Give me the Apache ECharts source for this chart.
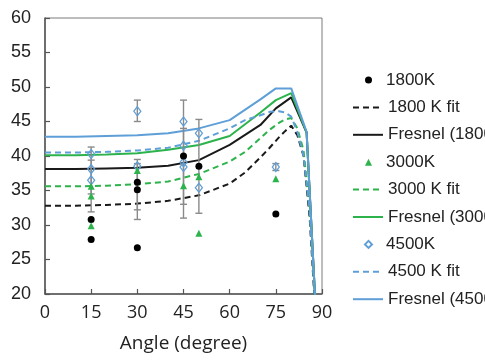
<!DOCTYPE html>
<html><head><meta charset="utf-8">
<script src="https://cdn.jsdelivr.net/npm/echarts@6/dist/echarts.min.js"></script>
<style>html,body{margin:0;padding:0;background:#fff}#c{width:485px;height:360px}</style>
</head><body><div id="c"></div>
<script>
// ---- data ----
const xTicks = [0, 15, 30, 45, 60, 75, 90];
const yTicks = [20, 25, 30, 35, 40, 45, 50, 55, 60];

// measured points [angle, value]
const pts1800 = [[15,30.8],[15,27.9],[30,36.2],[30,35.1],[30,26.7],[45,40.0],[50,38.5],[75,31.6]];
const pts3000 = [[15,35.6],[15,34.2],[15,29.9],[30,37.9],[45,35.7],[50,37.0],[50,28.8],[75,36.7]];
const pts4500 = [[15,40.3],[15,38.1],[15,36.5],[30,46.5],[30,38.5],[45,45.0],[45,41.5],[45,39.1],[45,38.4],[50,43.3],[50,35.4],[75,38.4]];

// error bars [angle, low, high]
const errBars = [[15,31.9,41.3],[15,34.5,39.4],[30,45.0,48.1],[30,30.8,39.5],[30,32.2,38.9],[45,31.0,48.1],[45,33.0,44.0],[50,31.7,45.3],[75,37.9,38.9]];

// fit curves
const fitAngles = [0,10,20,30,40,50,60,65,70,73,76,78,80,82,84,86,88,90];
const fit1800 = [32.8,32.8,32.9,33.1,33.5,34.3,36.0,37.6,39.8,41.2,42.7,43.6,44.4,43.0,40.0,31.0,16.0,0];
const fit3000 = [35.6,35.6,35.7,35.9,36.3,37.4,39.2,40.6,42.6,43.8,44.8,45.3,45.5,44.0,40.8,32.0,17.0,0];
const fit4500 = [40.5,40.5,40.6,40.8,41.2,42.2,44.0,45.2,45.9,46.4,46.5,46.3,45.7,43.5,40.0,32.0,17.0,0];

// Fresnel curves
const fresAngles = [0,10,20,30,40,50,60,70,75,80,85,90];
const fres1800 = [38.1,38.1,38.2,38.3,38.6,39.4,41.6,44.5,46.9,48.5,43.4,0];
const fres3000 = [40.1,40.1,40.2,40.4,40.9,41.6,42.9,46.3,48.1,49.1,43.4,0];
const fres4500 = [42.8,42.8,42.9,43.0,43.3,44.0,45.2,48.2,49.8,49.8,43.5,0];

const names = ['1800K','1800 K fit','Fresnel (1800 K)','3000K','3000 K fit','Fresnel (3000 K)','4500K','4500 K fit','Fresnel (4500 K)'];

// ---- styles ----
const cBlack = '#1a1a1a', cGreen = '#2cb34c', cBlue = '#5f9fd8';
const pair = (xs, ys) => xs.map((x, i) => [x, ys[i]]);
const lineS = (name, xs, ys, color, dashed) => ({
  name, type: 'line', data: pair(xs, ys), symbol: 'none', smooth: false, clip: true, z: 2,
  lineStyle: { color, width: 2, type: dashed ? [6, 4] : 'solid' }, itemStyle: { color }
});

const rowH = 27.4, firstRow = 75;
const legText = { color: '#222', fontSize: 17, fontFamily: 'Liberation Sans', lineHeight: 17 };
const markerLegend = {
  orient: 'vertical', left: 359, top: firstRow - 8.5, itemWidth: 7, itemHeight: 7,
  itemGap: 3 * rowH - 17, textStyle: Object.assign({ padding: [0, 0, 0, 9] }, legText),
  data: [names[0], names[3], names[6]]
};
const lineLegend = (i) => ({
  orient: 'vertical', left: 347, top: firstRow + (3 * i + 1) * rowH - 8.5, itemWidth: 30, itemHeight: 8,
  itemGap: rowH - 17, textStyle: legText,
  data: [{ name: names[3 * i + 1], itemStyle: { opacity: 0 } }, { name: names[3 * i + 2], itemStyle: { opacity: 0 } }]
});

const chart = echarts.init(document.getElementById('c'), null, { renderer: 'canvas' });
chart.setOption({
  animation: false,
  backgroundColor: '#fff',
  grid: { left: 45, right: 163, top: 18, bottom: 66, show: true, borderColor: '#7a7a7a', borderWidth: 1 },
  xAxis: {
    type: 'value', min: 0, max: 90, interval: 15,
    axisLine: { show: true, lineStyle: { color: '#555', width: 1.5 } },
    axisTick: { show: true, inside: true, length: 5, lineStyle: { color: '#555', width: 1.2 } },
    splitLine: { show: false },
    axisLabel: { color: '#222', fontSize: 18, fontFamily: 'Open Sans', margin: 10,
      formatter: v => xTicks.includes(v) ? String(v) : '' },
    name: 'Angle (degree)', nameLocation: 'middle', nameGap: 40,
    nameTextStyle: { color: '#222', fontSize: 19, fontFamily: 'Open Sans' }
  },
  yAxis: {
    type: 'value', min: 20, max: 60, interval: 5,
    axisLine: { show: true, lineStyle: { color: '#555', width: 1.5 } },
    axisTick: { show: true, inside: true, length: 5, lineStyle: { color: '#555', width: 1.2 } },
    splitLine: { show: false },
    axisLabel: { color: '#222', fontSize: 18, fontFamily: 'Liberation Sans', margin: 14,
      formatter: v => yTicks.includes(v) ? String(v) : '' }
  },
  legend: [markerLegend, lineLegend(0), lineLegend(1), lineLegend(2)],
  series: [
    { name: 'errors', type: 'custom', z: 3, data: errBars, silent: true,
      renderItem: (params, api) => {
        const x = api.value(0), lo = api.value(1), hi = api.value(2);
        const pLo = api.coord([x, lo]), pHi = api.coord([x, hi]);
        const w = 3.5, st = { stroke: '#8a8a8a', lineWidth: 1.4 };
        return { type: 'group', children: [
          { type: 'line', shape: { x1: pLo[0], y1: pLo[1], x2: pHi[0], y2: pHi[1] }, style: st },
          { type: 'line', shape: { x1: pLo[0]-w, y1: pLo[1], x2: pLo[0]+w, y2: pLo[1] }, style: st },
          { type: 'line', shape: { x1: pHi[0]-w, y1: pHi[1], x2: pHi[0]+w, y2: pHi[1] }, style: st }
        ]};
      }
    },
    { name: names[0], type: 'scatter', data: pts1800, symbol: 'circle', symbolSize: 7, z: 5,
      itemStyle: { color: '#000', opacity: 1 } },
    lineS(names[1], fitAngles, fit1800, cBlack, true),
    lineS(names[2], fresAngles, fres1800, cBlack, false),
    { name: names[3], type: 'scatter', data: pts3000, symbol: 'triangle', symbolSize: 7, z: 5,
      itemStyle: { color: cGreen, opacity: 1 } },
    lineS(names[4], fitAngles, fit3000, cGreen, true),
    lineS(names[5], fresAngles, fres3000, cGreen, false),
    { name: names[6], type: 'scatter', data: pts4500, symbol: 'diamond', symbolSize: [7, 9], z: 4,
      itemStyle: { color: 'rgba(255,255,255,0)', borderColor: cBlue, borderWidth: 1.3, opacity: 1 } },
    lineS(names[7], fitAngles, fit4500, cBlue, true),
    lineS(names[8], fresAngles, fres4500, cBlue, false)
  ]
});
</script></body></html>
